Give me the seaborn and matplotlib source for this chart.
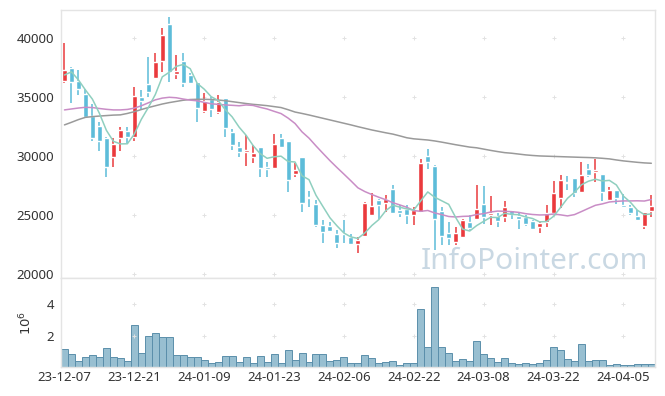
import numpy as np
import pandas as pd
import seaborn as sns
import matplotlib.pyplot as plt

# daily candles, 23-12-07 .. 24-04-12 (85 trading days)
opens = [36356, 37458, 36356, 35254, 33390, 32542, 31525, 29915, 31525, 32119,
         31610, 35000, 36102, 36610, 38051, 41186, 36949, 38051, 36864, 36271,
         33813, 34830, 33729, 34915, 32034, 30763, 30339, 29915, 30763, 29068,
         28983, 31525, 31271, 28475, 29915, 26500, 25932, 24153, 24068, 23390,
         23430, 23136, 22542, 23220, 25000, 26271, 26017, 27203, 25424, 25508,
         25000, 25254, 30000, 29152, 25339, 23475, 22712, 23136, 24407, 24661,
         25932, 25000, 24915, 24830, 25424, 24915, 24830, 24491, 23983, 24407,
         25169, 26441, 27796, 28135, 26949, 28898, 28644, 28475, 26271, 27118,
         25800, 25678, 24915, 24068, 25339]
highs = [39576, 37500, 37288, 35678, 34407, 32881, 31600, 31525, 32458, 32458,
         35847, 35593, 38390, 38729, 40848, 41780, 38559, 38729, 37034, 36300,
         35339, 35000, 35169, 34950, 32288, 31186, 31780, 30932, 30800, 29491,
         31864, 31864, 31300, 29407, 29950, 27034, 26271, 24576, 24407, 23729,
         24576, 23390, 23136, 26100, 26864, 26356, 26695, 27542, 25847, 25847,
         25678, 29746, 30593, 29200, 25678, 24407, 23983, 24661, 25000, 27542,
         27458, 26610, 25169, 26187, 25450, 25169, 25000, 24576, 24407, 25847,
         27881, 28390, 28305, 28150, 29491, 29322, 29745, 28500, 27373, 27150,
         26780, 25847, 25424, 25280, 26695]
lows = [36186, 34491, 35169, 33220, 31271, 30424, 28220, 29068, 30424, 31100,
        31271, 33983, 35000, 36525, 37119, 36271, 36525, 35847, 36102, 32881,
        33644, 33305, 33559, 31610, 30508, 29915, 29152, 29407, 28220, 28220,
        28950, 30678, 26949, 28220, 25254, 25678, 23983, 22627, 23559, 22203,
        22627, 22500, 21779, 23150, 24950, 24661, 25254, 25100, 24830, 24237,
        24153, 25200, 28898, 22034, 22458, 22458, 22458, 23051, 23729, 24600,
        24237, 24153, 23983, 24407, 24661, 23814, 24068, 23729, 23475, 23983,
        25100, 25593, 27118, 26525, 26900, 28220, 27796, 26187, 26250, 25932,
        25650, 25000, 24491, 23814, 24830]
closes = [37288, 36271, 35678, 33305, 31525, 31271, 29068, 31017, 32203, 31610,
          35085, 34661, 35424, 37966, 40254, 37119, 37203, 36186, 36186, 34068,
          34661, 33983, 34576, 32373, 30932, 30339, 30508, 30254, 28983, 28898,
          31017, 30763, 27966, 28814, 26017, 26400, 24153, 23559, 23644, 22627,
          23350, 22542, 22881, 26017, 25763, 25847, 26356, 25169, 25169, 25000,
          25424, 29407, 29491, 24661, 23220, 23051, 23475, 24576, 23898, 25508,
          24830, 25169, 24491, 25678, 25085, 24661, 24237, 23814, 24322, 25169,
          26864, 27966, 27712, 26864, 28390, 28390, 28814, 26949, 27118, 26441,
          25700, 25169, 24576, 25254, 25763]

# volume in millions of shares
volume_m = [1.14, 0.82, 0.40, 0.63, 0.76, 0.63, 1.20, 0.63, 0.57, 0.40,
            2.65, 0.88, 1.96, 2.15, 1.90, 1.90, 0.76, 0.76, 0.63, 0.63,
            0.44, 0.27, 0.32, 0.70, 0.70, 0.32, 0.63, 0.25, 0.70, 0.32,
            0.82, 0.27, 1.07, 0.44, 0.88, 0.32, 0.82, 0.82, 0.40, 0.44,
            0.63, 0.27, 0.27, 0.76, 0.57, 0.27, 0.32, 0.38, 0.13, 0.27,
            0.27, 3.66, 1.26, 5.10, 1.26, 0.88, 0.40, 0.50, 0.40, 1.64,
            0.82, 0.57, 0.32, 0.57, 0.25, 0.19, 0.25, 0.19, 0.25, 0.44,
            1.26, 1.07, 0.50, 0.40, 1.45, 0.40, 0.44, 0.44, 0.13, 0.19,
            0.13, 0.13, 0.19, 0.19, 0.19]

# moving averages
ma5 = [36860, 37120, 36440, 35590, 34810, 33610, 32170, 31240, 31020, 31030,
       31850, 33100, 34100, 35200, 36700, 37090, 37590, 37750, 37390, 36150,
       35660, 35020, 34700, 33930, 33310, 32440, 31750, 30880, 30200, 29800,
       29930, 29980, 29530, 29490, 28320, 27990, 26670, 25710, 24760, 24080,
       23470, 23140, 23010, 23480, 24110, 24610, 25370, 25830, 25660, 25510,
       25420, 26200, 26950, 26500, 26200, 25900, 24780, 23800, 23640, 24100,
       24460, 24800, 24780, 25140, 25050, 25020, 24830, 24700, 24420, 24440,
       24880, 25630, 26410, 26920, 27560, 27860, 28030, 27880, 27930, 27540,
       26600, 26080, 25400, 25030, 25090]
ma20 = [33900, 33980, 34060, 34120, 34100, 34020, 33950, 33900, 33900, 33940,
        34050, 34250, 34500, 34750, 34900, 34970, 34930, 34820, 34730, 34670,
        34540, 34420, 34370, 34320, 34290, 34250, 34320, 34280, 34120, 33980,
        33780, 33590, 33210, 32750, 32040, 31510, 30850, 30220, 29600, 29020,
        28460, 27890, 27300, 26980, 26730, 26500, 26290, 26040, 25850, 25650,
        25370, 25310, 25380, 25170, 25030, 24870, 24830, 24880, 24900, 25040,
        25110, 25250, 25330, 25310, 25280, 25220, 25110, 25040, 25000, 25010,
        25080, 25010, 24920, 25030, 25290, 25560, 25820, 25940, 26100, 26150,
        26190, 26190, 26200, 26180, 26310]
ma60 = [32630, 32850, 33080, 33270, 33330, 33380, 33420, 33460, 33480, 33600,
        33750, 33930, 34100, 34250, 34400, 34520, 34620, 34720, 34780, 34800,
        34800, 34780, 34740, 34680, 34600, 34520, 34440, 34370, 34320, 34260,
        34180, 34100, 33920, 33720, 33600, 33470, 33330, 33190, 33050, 32910,
        32770, 32630, 32480, 32340, 32200, 32080, 31960, 31850, 31700, 31540,
        31450, 31400, 31350, 31270, 31170, 31060, 30950, 30850, 30750, 30690,
        30580, 30470, 30370, 30280, 30230, 30160, 30090, 30040, 30000, 29980,
        29960, 29940, 29920, 29900, 29880, 29865, 29840, 29800, 29750, 29660,
        29580, 29520, 29460, 29410, 29380]

tick_labels = ["23-12-07", "23-12-21", "24-01-09", "24-01-23", "24-02-06",
               "24-02-22", "24-03-08", "24-03-22", "24-04-05"]
price_ticks = [20000, 25000, 30000, 35000, 40000]
vol_ticks = [2, 4]

RED = "#ea3a3d"
BLUE = "#5dbcd9"
FRAME = "#e4e4e4"
TXT = "#333333"

df = pd.DataFrame({"open": opens, "high": highs, "low": lows, "close": closes,
                   "vol": volume_m, "ma5": ma5, "ma20": ma20, "ma60": ma60})
df["day"] = np.arange(len(df))
up = df["close"] >= df["open"]
colors = np.where(up, RED, BLUE)

sns.set_theme(style="white")
plt.rcParams['font.family'] = ['Noto Sans', 'DejaVu Sans']

fig = plt.figure(figsize=(6.65, 3.96), dpi=100)
ax = fig.add_axes([0.0917, 0.298, 0.893, 0.677])
axv = fig.add_axes([0.0917, 0.0732, 0.893, 0.2247])

# watermark
ax.text(0.988, 0.035, "InfoPointer.com", transform=ax.transAxes, ha="right",
        va="baseline", fontsize=21.5, color="#c9d8e3", zorder=0)

# candles
ax.vlines(df["day"], df["low"], df["high"], color=colors, lw=1.1, zorder=2)
body = (df["close"] - df["open"]).abs().clip(lower=110)
ax.bar(df["day"], body, bottom=df[["open", "close"]].min(axis=1),
       width=0.72, color=colors, zorder=3)

# moving averages
sns.lineplot(data=df, x="day", y="ma60", ax=ax, color="#9a9a9a", lw=1.1, zorder=4)
sns.lineplot(data=df, x="day", y="ma20", ax=ax, color="#c98dc6", lw=1.1, zorder=4)
sns.lineplot(data=df, x="day", y="ma5", ax=ax, color="#8fcfbf", lw=1.1, zorder=5)

# volume
sns.barplot(data=df, x="day", y="vol", ax=axv, native_scale=True, width=1.0,
            color="#98bfd1", saturation=1, edgecolor="#5b8fab", linewidth=0.7)

xticks = list(range(0, len(df), 10))
for a in (ax, axv):
    a.set_xlim(-0.5, len(df) - 0.5)
    a.set_xticks(xticks)
    a.set_xlabel("")
    a.set_ylabel("")
    for s in a.spines.values():
        s.set_color(FRAME)
        s.set_linewidth(1)
    a.tick_params(length=0, colors=TXT, labelsize=9.5, pad=5)

ax.set_ylim(19660, 42373)
ax.set_yticks(price_ticks)
ax.set_yticklabels([str(p) for p in price_ticks])
ax.set_xticklabels([])

axv.set_ylim(0, 5.65)
axv.set_yticks(vol_ticks)
axv.set_yticklabels([str(v) for v in vol_ticks])
axv.set_xticklabels(tick_labels)
axv.tick_params(axis="x", pad=3)
axv.set_ylabel("$10^6$", color=TXT, fontsize=9.5, labelpad=9)

# faint "+" grid marks at tick crossings
for a, yt in ((ax, price_ticks), (axv, vol_ticks)):
    gx, gy = np.meshgrid(xticks[1:], yt)
    a.scatter(gx.ravel(), gy.ravel(), marker="+", s=10, color="#e2e2e2",
              linewidths=0.7, zorder=1)

fig.savefig("out.png", dpi=100)
